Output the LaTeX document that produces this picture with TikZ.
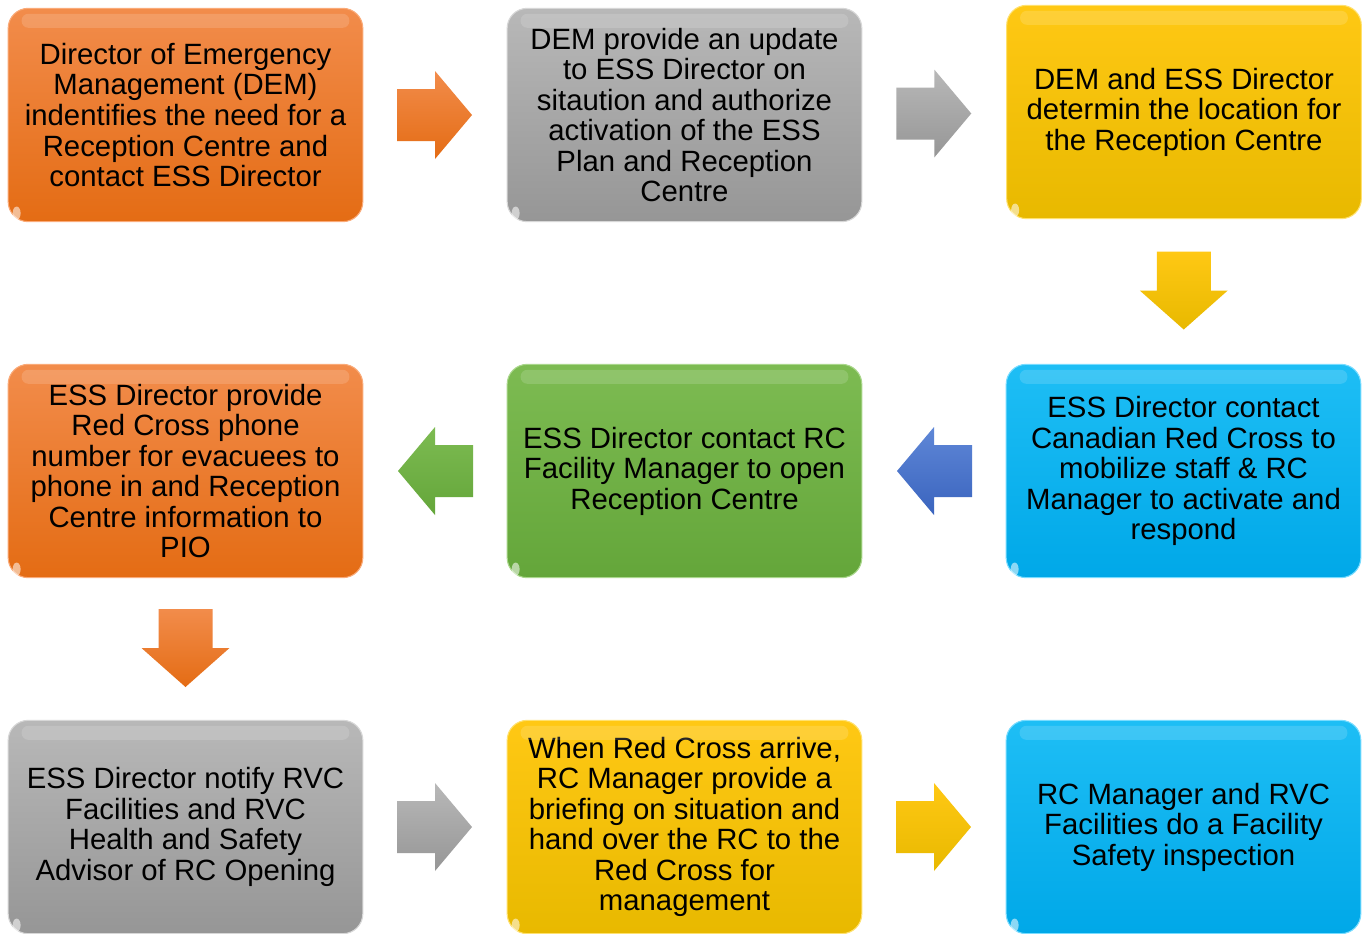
\documentclass[tikz,border=0pt]{standalone}
\usepackage{fontspec}
\setmainfont{Liberation Sans}
\usetikzlibrary{calc}
\definecolor{orTop}{RGB}{242,140,75}
\definecolor{orBot}{RGB}{228,108,20}
\definecolor{orEdge}{RGB}{250,170,120}
\definecolor{grTop}{RGB}{184,184,184}
\definecolor{grBot}{RGB}{150,150,150}
\definecolor{grEdge}{RGB}{215,215,215}
\definecolor{yeTop}{RGB}{255,200,20}
\definecolor{yeBot}{RGB}{232,185,0}
\definecolor{yeEdge}{RGB}{255,225,110}
\definecolor{blTop}{RGB}{30,190,245}
\definecolor{blBot}{RGB}{0,168,232}
\definecolor{blEdge}{RGB}{120,220,255}
\definecolor{gnTop}{RGB}{125,187,82}
\definecolor{gnBot}{RGB}{100,166,58}
\definecolor{gnEdge}{RGB}{170,215,140}
\definecolor{baTop}{RGB}{95,135,215}
\definecolor{baBot}{RGB}{58,100,190}
\tikzset{
  x=0.75pt, y=-0.75pt,
  box/.style={rounded corners=15pt, minimum width=266pt, minimum height=160pt,
    align=center, inner sep=0pt, font=\fontsize{22}{22.9}\selectfont, line width=0.8pt},
  orangebox/.style={box, top color=orTop, bottom color=orBot, draw=orEdge},
  graybox/.style={box, top color=grTop, bottom color=grBot, draw=grEdge},
  yellowbox/.style={box, top color=yeTop, bottom color=yeBot, draw=yeEdge},
  bluebox/.style={box, top color=blTop, bottom color=blBot, draw=blEdge},
  greenbox/.style={box, top color=gnTop, bottom color=gnBot, draw=gnEdge},
}
\newcommand\hilite[1]{%
  \fill[white, opacity=0.15, rounded corners=5pt] ($(#1.north west)+(14,6)$) rectangle ($(#1.north east)+(-14,20)$);
  \fill[white, opacity=0.55] ($(#1.south west)+(9,-9)$) ellipse (3pt and 5pt);}
\newcommand\rarr[3]{%
  \path[top color=#2, bottom color=#3] ($(#1)+(-38,-26)$) -- ++(38,0) -- ++(0,-18) -- ++(37,44) -- ++(-37,44) -- ++(0,-18) -- ++(-38,0) -- cycle;}
\newcommand\larr[3]{%
  \path[top color=#2, bottom color=#3] ($(#1)+(38,-26)$) -- ++(-38,0) -- ++(0,-18) -- ++(-37,44) -- ++(37,44) -- ++(0,-18) -- ++(38,0) -- cycle;}
\newcommand\darr[3]{%
  \path[top color=#2, bottom color=#3] ($(#1)+(-27,-40)$) -- ++(54,0) -- ++(0,39) -- ++(17,0) -- ++(-44,39) -- ++(-44,-39) -- ++(17,0) -- cycle;}
\begin{document}
\begin{tikzpicture}
\useasboundingbox (0,0) rectangle (1364,933);
\fill[white] (0,0) rectangle (1364,933);
% row 1
\node[orangebox] (b1) at (185.5,115) {Director of Emergency\\Management (DEM)\\indentifies the need for a\\Reception Centre and\\contact ESS Director};
\node[graybox] (b2) at (684.5,115) {DEM provide an update\\to ESS Director on\\sitaution and authorize\\activation of the ESS\\Plan and Reception\\Centre};
\node[yellowbox] (b3) at (1184,112) {DEM and ESS Director\\determin the location for\\the Reception Centre};
% row 2
\node[bluebox] (b4) at (1183.5,471) {ESS Director contact\\Canadian Red Cross to\\mobilize staff \& RC\\Manager to activate and\\respond};
\node[greenbox] (b5) at (684.5,471) {ESS Director contact RC\\Facility Manager to open\\Reception Centre};
\node[orangebox] (b6) at (185.5,471) {ESS Director provide\\Red Cross phone\\number for evacuees to\\phone in and Reception\\Centre information to\\PIO};
% row 3
\node[graybox] (b7) at (185.5,827) {ESS Director notify RVC\\Facilities and RVC\\Health and Safety\\Advisor of RC Opening};
\node[yellowbox] (b8) at (684.5,827) {When Red Cross arrive,\\RC Manager provide a\\briefing on situation and\\hand over the RC to the\\Red Cross for\\management};
\node[bluebox] (b9) at (1183.5,827) {RC Manager and RVC\\Facilities do a Facility\\Safety inspection};
\foreach \b in {b1,b2,b3,b4,b5,b6,b7,b8,b9} {\hilite{\b}}
% connectors
\coordinate (a12) at ($(b1.east)!0.5!(b2.west)$);
\coordinate (a23) at ($(b2.east)!0.5!(b3.west)$);
\coordinate (a34) at ($(b3.south)!0.5!(b4.north)$);
\coordinate (a45) at ($(b4.west)!0.5!(b5.east)$);
\coordinate (a56) at ($(b5.west)!0.5!(b6.east)$);
\coordinate (a67) at ($(b6.south)!0.5!(b7.north)$);
\coordinate (a78) at ($(b7.east)!0.5!(b8.west)$);
\coordinate (a89) at ($(b8.east)!0.5!(b9.west)$);
\rarr{a12}{orTop}{orBot}
\rarr{a23}{grTop}{grBot}
\darr{a34}{yeTop}{yeBot}
\larr{a45}{baTop}{baBot}
\larr{a56}{gnTop}{gnBot}
\darr{a67}{orTop}{orBot}
\rarr{a78}{grTop}{grBot}
\rarr{a89}{yeTop}{yeBot}
\end{tikzpicture}
\end{document}
